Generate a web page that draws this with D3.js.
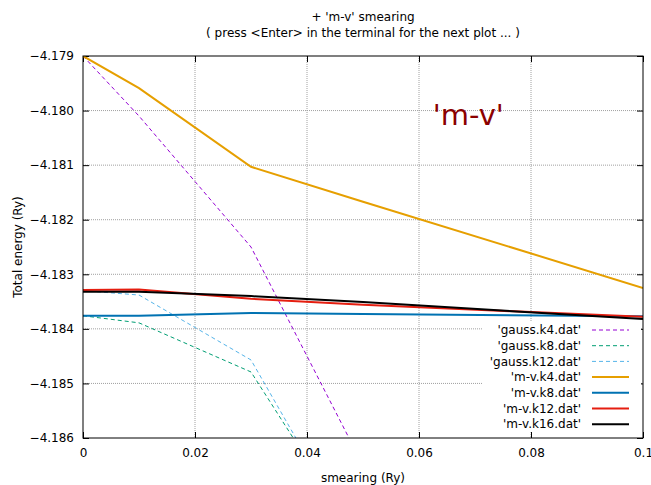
<!DOCTYPE html>
<html>
<head>
<meta charset="utf-8">
<script src="https://cdn.jsdelivr.net/npm/d3@7"></script>
<style>
  body { margin: 0; background: #fff; }
  text { font-family: "DejaVu Sans", sans-serif; }
</style>
</head>
<body>
<div id="chart"></div>
<script>
// smearing values (Ry)
const smearing = [0, 0.01, 0.03, 0.05, 0.1];

// total energies (Ry) for each run
const gaussK4  = [-4.17900, -4.18010, -4.18250, -4.18650, -4.19500];
const gaussK8  = [-4.18376, -4.18389, -4.18479, -4.18800, -4.19300];
const gaussK12 = [-4.18330, -4.18338, -4.18457, -4.18814, -4.19300];
const mvK4     = [-4.17900, -4.17959, -4.18103, -4.18167, -4.18325];
const mvK8     = [-4.18376, -4.18376, -4.18371, -4.18373, -4.18377];
const mvK12    = [-4.18329, -4.18328, -4.18345, -4.18356, -4.18378];
const mvK16    = [-4.18332, -4.18332, -4.18340, -4.18351, -4.18382];

const seriesNames = ["'gauss.k4.dat'", "'gauss.k8.dat'", "'gauss.k12.dat'",
  "'m-v.k4.dat'", "'m-v.k8.dat'", "'m-v.k12.dat'", "'m-v.k16.dat'"];
const seriesValues = [gaussK4, gaussK8, gaussK12, mvK4, mvK8, mvK12, mvK16];

const xTicks = [0, 0.02, 0.04, 0.06, 0.08, 0.1];
const yTicks = [-4.186, -4.185, -4.184, -4.183, -4.182, -4.181, -4.180, -4.179];

// styles
const colors = ["#9400d3", "#009e73", "#56b4e9", "#e69f00", "#0072b2", "#e51e10", "#000000"];
const dashed = [true, true, true, false, false, false, false];

const W = 651, H = 485;
const margin = { top: 56, right: 8, bottom: 47, left: 83 };
const width = W - margin.left - margin.right,
      height = H - margin.top - margin.bottom;

const svg = d3.select("#chart").append("svg")
  .attr("width", W).attr("height", H);

const g = svg.append("g")
  .attr("transform", "translate(" + margin.left + "," + margin.top + ")");

const x = d3.scaleLinear().domain([0, 0.1]).range([0, width]);
const y = d3.scaleLinear().domain([-4.186, -4.179]).range([height, 0]);

// grid
g.append("g").selectAll("line").data(xTicks.slice(1, -1)).enter().append("line")
  .attr("x1", d => x(d)).attr("x2", d => x(d))
  .attr("y1", 0).attr("y2", height)
  .attr("stroke", "#a0a0a0").attr("stroke-width", 1).attr("stroke-dasharray", "1,1");
g.append("g").selectAll("line").data(yTicks.slice(1, -1)).enter().append("line")
  .attr("y1", d => y(d)).attr("y2", d => y(d))
  .attr("x1", 0).attr("x2", width)
  .attr("stroke", "#a0a0a0").attr("stroke-width", 1).attr("stroke-dasharray", "1,1");

// axes (ticks pointing inward, mirrored)
const fmtY = d3.format(".3f");
g.append("g")
  .attr("transform", "translate(0," + height + ")")
  .call(d3.axisBottom(x).tickValues(xTicks).tickSize(-6).tickPadding(10)
    .tickFormat(d => d === 0 ? "0" : d3.format("")(+d.toFixed(2))));
g.append("g")
  .call(d3.axisTop(x).tickValues(xTicks).tickSize(-6).tickFormat(""));
g.append("g")
  .call(d3.axisLeft(y).tickValues(yTicks).tickSize(-6).tickPadding(9).tickFormat(fmtY));
g.append("g")
  .attr("transform", "translate(" + width + ",0)")
  .call(d3.axisRight(y).tickValues(yTicks).tickSize(-6).tickFormat(""));

g.selectAll(".domain").attr("stroke", "none");
g.selectAll(".tick line").attr("stroke", "#000").attr("stroke-width", 1);
g.selectAll(".tick text").attr("font-size", 12).attr("font-family", "DejaVu Sans").attr("fill", "#000");

// clip
svg.append("defs").append("clipPath").attr("id", "clip")
  .append("rect").attr("width", width).attr("height", height);

const line = d3.line().x((d, i) => x(smearing[i])).y(d => y(d));

const plot = g.append("g").attr("clip-path", "url(#clip)");
seriesValues.forEach(function (vals, k) {
  plot.append("path")
    .datum(vals)
    .attr("fill", "none")
    .attr("stroke", colors[k])
    .attr("stroke-width", dashed[k] ? 1 : 2)
    .attr("stroke-dasharray", dashed[k] ? "4,3" : null)
    .attr("d", line);
});

// legend
const legend = g.append("g").attr("transform", "translate(" + (width - 160) + "," + 266 + ")");
legend.append("rect")
  .attr("x", 0).attr("y", 0).attr("width", 158).attr("height", 110)
  .attr("fill", "#fff");
const rows = legend.selectAll(".row").data(seriesNames).enter().append("g")
  .attr("transform", (d, i) => "translate(0," + (8 + i * 15.7) + ")");
rows.append("text")
  .attr("x", 98).attr("y", 0).attr("dy", "0.35em")
  .attr("text-anchor", "end").attr("font-size", 12)
  .text(d => d);
rows.append("line")
  .attr("x1", 109).attr("x2", 146).attr("y1", 0).attr("y2", 0)
  .attr("stroke", (d, i) => colors[i])
  .attr("stroke-width", (d, i) => dashed[i] ? 1 : 2)
  .attr("stroke-dasharray", (d, i) => dashed[i] ? "4,3" : null);

// border
g.append("rect")
  .attr("width", width).attr("height", height)
  .attr("fill", "none").attr("stroke", "#000").attr("stroke-width", 1);

// annotation
g.append("text")
  .attr("x", x(0.0688)).attr("y", y(-4.18027))
  .attr("text-anchor", "middle")
  .attr("font-size", 29)
  .attr("fill", "#8b0000")
  .text("'m-v'");

// titles
svg.append("text").attr("x", 363).attr("y", 21).attr("text-anchor", "middle")
  .attr("font-size", 12).text("+ 'm-v' smearing");
svg.append("text").attr("x", 363).attr("y", 37).attr("text-anchor", "middle")
  .attr("font-size", 12).text("( press <Enter> in the terminal for the next plot ... )");

// axis labels
svg.append("text").attr("x", 363).attr("y", 482).attr("text-anchor", "middle")
  .attr("font-size", 12).text("smearing (Ry)");
svg.append("text")
  .attr("transform", "translate(22," + (margin.top + height / 2) + ") rotate(-90)")
  .attr("text-anchor", "middle")
  .attr("font-size", 12).text("Total energy (Ry)");
</script>
</body>
</html>
